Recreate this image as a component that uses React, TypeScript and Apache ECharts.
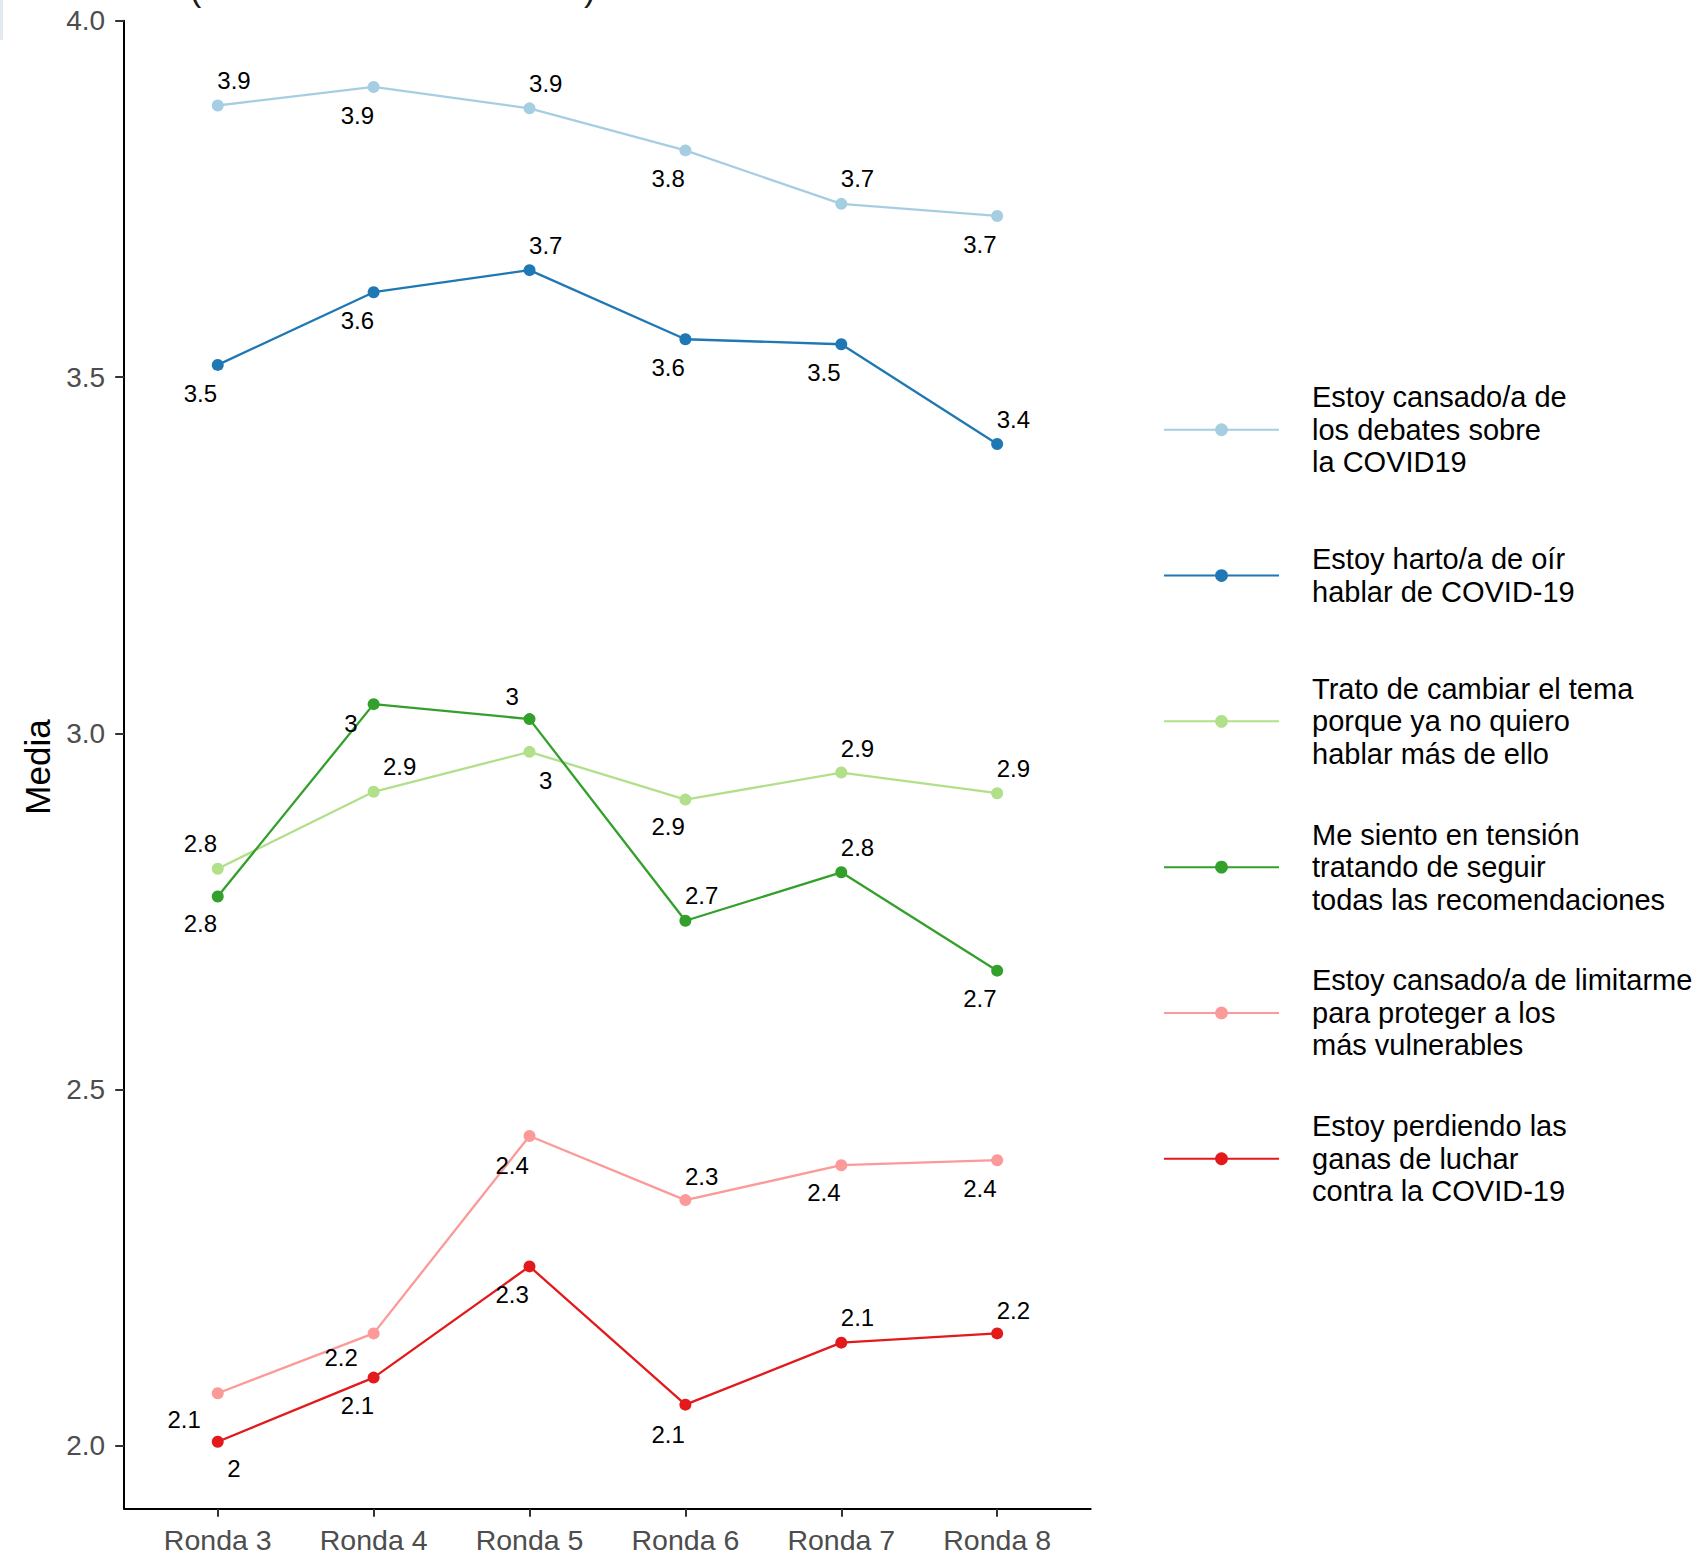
import { useEffect, useRef } from "react";
import * as echarts from "echarts";

// ---- data ----
const rounds = ["Ronda 3", "Ronda 4", "Ronda 5", "Ronda 6", "Ronda 7", "Ronda 8"];

const seriesNames = [
  "Estoy cansado/a de los debates sobre la COVID19",
  "Estoy harto/a de oír hablar de COVID-19",
  "Trato de cambiar el tema porque ya no quiero hablar más de ello",
  "Me siento en tensión tratando de seguir todas las recomendaciones",
  "Estoy cansado/a de limitarme para proteger a los más vulnerables",
  "Estoy perdiendo las ganas de luchar contra la COVID-19",
];

const legendLabels = [
  "Estoy cansado/a de\nlos debates sobre\nla COVID19",
  "Estoy harto/a de oír\nhablar de COVID-19",
  "Trato de cambiar el tema\nporque ya no quiero\nhablar más de ello",
  "Me siento en tensión\ntratando de seguir\ntodas las recomendaciones",
  "Estoy cansado/a de limitarme\npara proteger a los\nmás vulnerables",
  "Estoy perdiendo las\nganas de luchar\ncontra la COVID-19",
];

const debatesValues = [3.881, 3.907, 3.877, 3.818, 3.743, 3.726];
const hartoValues = [3.517, 3.619, 3.65, 3.553, 3.546, 3.406];
const cambiarValues = [2.81, 2.918, 2.974, 2.907, 2.945, 2.916];
const tensionValues = [2.771, 3.041, 3.02, 2.737, 2.805, 2.667];
const limitarmeValues = [2.074, 2.158, 2.435, 2.345, 2.394, 2.401];
const perdiendoValues = [2.006, 2.096, 2.252, 2.058, 2.145, 2.158];

const yTicks = [2.0, 2.5, 3.0, 3.5, 4.0];

// ---- styling / layout ----
const colors = ["#A6CEE3", "#1F78B4", "#B2DF8A", "#33A02C", "#FB9A99", "#E31A1C"];
const FONT = "'Liberation Sans', Arial, Helvetica, sans-serif";
const K = 1.083;
// repel-style label nudges (px, before scale K), one per point
const labelNudges: number[][][] = [
  [[15, -23], [-15, 26], [15, -23], [-16, 26], [15, -23], [-16, 26]],
  [[-16, 26], [-15, 26], [15, -23], [-16, 26], [-16, 26], [15, -23]],
  [[-16, -23], [24, -23], [15, 26], [-16, 25], [15, -22], [15, -23]],
  [[-16, 25], [-21, 18], [-16, -21], [15, -23], [15, -23], [-16, 26]],
  [[-31, 24], [-30, 22], [-16, 27], [15, -22], [-16, 25], [-16, 26]],
  [[15, 25], [-15, 26], [-16, 26], [-16, 28], [15, -23], [15, -21]],
];

const allValues = [
  debatesValues,
  hartoValues,
  cambiarValues,
  tensionValues,
  limitarmeValues,
  perdiendoValues,
];

const fmtLabel = (v: number) => String(Math.round(v * 10) / 10);

export default function App() {
  const ref = useRef<HTMLDivElement>(null);

  useEffect(() => {
    if (!ref.current) return;
    const chart = echarts.init(ref.current, undefined, { renderer: "svg" });

    const series = allValues.map((vals, si) => ({
      name: seriesNames[si],
      type: "line",
      data: vals.map((v, i) => ({
        value: [i, v],
        label: { offset: [labelNudges[si][i][0] * K, labelNudges[si][i][1] * K] },
      })),
      symbol: "circle",
      symbolSize: 12,
      showSymbol: true,
      color: colors[si],
      itemStyle: { color: colors[si] },
      lineStyle: { color: colors[si], width: 2.3 },
      emphasis: { disabled: true },
      label: {
        show: true,
        position: "inside",
        align: "center",
        verticalAlign: "middle",
        fontSize: 24,
        fontFamily: FONT,
        color: "#000000",
        formatter: (p: any) => fmtLabel(p.value[1]),
      },
      z: 2 + si,
    }));

    const legendMap: Record<string, string> = {};
    seriesNames.forEach((n, i) => (legendMap[n] = legendLabels[i]));

    chart.setOption({
      animation: false,
      backgroundColor: "#ffffff",
      grid: { left: 124.2, top: 20.7, width: 966.5, height: 1488, containLabel: false },
      xAxis: {
        type: "value",
        min: -0.6,
        max: 5.6,
        axisLine: { show: true, onZero: false, lineStyle: { color: "#000000", width: 2 } },
        axisTick: {
          show: true,
          length: 8,
          lineStyle: { color: "#333333", width: 2 },
          customValues: rounds.map((_, i) => i),
        },
        axisLabel: {
          show: true,
          customValues: rounds.map((_, i) => i),
          formatter: (v: number) => rounds[Math.round(v)],
          fontSize: 28.5,
          fontFamily: FONT,
          color: "#4D4D4D",
          margin: 17,
        },
        splitLine: { show: false },
      },
      yAxis: {
        type: "value",
        min: 1.912,
        max: 4.0,
        axisLine: { show: true, onZero: false, lineStyle: { color: "#000000", width: 2 } },
        axisTick: {
          show: true,
          length: 9,
          lineStyle: { color: "#333333", width: 2 },
          customValues: yTicks,
        },
        axisLabel: {
          show: true,
          customValues: yTicks,
          formatter: (v: number) => v.toFixed(1),
          fontSize: 28,
          fontFamily: FONT,
          color: "#4D4D4D",
          margin: 19,
        },
        splitLine: { show: false },
      },
      legend: {
        show: true,
        orient: "vertical",
        left: 1163,
        top: 379,
        padding: 0,
        itemGap: 44.3,
        itemWidth: 115,
        itemHeight: 16,
        selectedMode: false,
        formatter: (name: string) => legendMap[name] ?? name,
        textStyle: {
          fontSize: 29,
          lineHeight: 32.5,
          fontFamily: FONT,
          color: "#000000",
          padding: [4, 0, 0, 28],
        },
        data: seriesNames.map((n, i) =>
          legendLabels[i].split("\n").length === 2
            ? { name: n, textStyle: { padding: [20.25, 0, 16.25, 28] } }
            : { name: n }
        ),
      },
      graphic: [
        {
          type: "rect",
          shape: { x: 0, y: 0, width: 3, height: 40 },
          style: { fill: "#E3E9F1" },
          silent: true,
        },
        {
          type: "text",
          x: 37.5,
          y: 767,
          rotation: Math.PI / 2,
          style: {
            text: "Media",
            fontSize: 35,
            fontFamily: FONT,
            fill: "#000000",
            align: "center",
            verticalAlign: "middle",
          },
          silent: true,
        },
        {
          type: "text",
          x: 190,
          y: 6,
          style: {
            text: "(",
            fontSize: 34,
            fontFamily: FONT,
            fill: "#1a1a1a",
            align: "left",
            verticalAlign: "bottom",
          },
          silent: true,
        },
        {
          type: "text",
          x: 584,
          y: 6,
          style: {
            text: ")",
            fontSize: 34,
            fontFamily: FONT,
            fill: "#1a1a1a",
            align: "left",
            verticalAlign: "bottom",
          },
          silent: true,
        },
      ],
      series,
    });

    return () => {
      chart.dispose();
    };
  }, []);

  return (
    <div
      ref={ref}
      style={{ position: "absolute", left: 0, top: 0, width: 1698, height: 1557, background: "#fff" }}
    />
  );
}
